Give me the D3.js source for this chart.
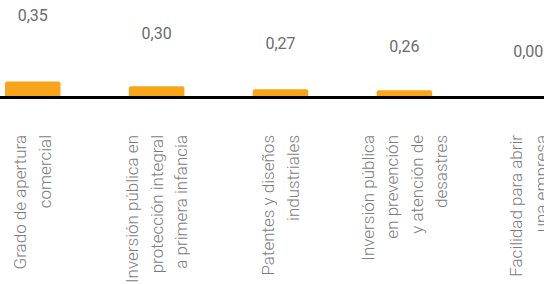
<!DOCTYPE html>
<html>
<head>
<meta charset="utf-8">
<script src="https://cdn.jsdelivr.net/npm/d3@7"></script>
<style>
  html, body { margin: 0; padding: 0; background: #fff; }
  svg { display: block; }
</style>
</head>
<body>
<div id="chart"></div>
<script>
// categories (line breaks where the label wraps)
var categories = [
	"Grado de apertura\ncomercial",
	"Inversión pública en\nprotección integral\na primera infancia",
	"Patentes y diseños\nindustriales",
	"Inversión pública\nen prevención\ny atención de\ndesastres",
	"Facilidad para abrir\nuna empresa"
];
var values = [0.35, 0.30, 0.27, 0.26, 0.00];
var valueLabels = ["0,35", "0,30", "0,27", "0,26", "0,00"];

var width = 544,
	height = 284,
	axisY = 96;

var svg = d3.select('#chart').append('svg')
	.attr('width', width)
	.attr('height', height);

var x = d3.scaleBand()
	.domain(categories)
	.range([5, 556])
	.paddingInner(0.552)
	.paddingOuter(0);

// bars only show the top of the range
var y = d3.scaleLinear()
	.domain([0.2, 0.35])
	.range([axisY, 81.5])
	.clamp(true);

// value labels sit on their own scale above the bars
var labelY = d3.scaleLinear()
	.domain([0.247, 0.35])
	.range([57, 21.3])
	.clamp(true);

var r = 2;
svg.selectAll('path.bar')
	.data(values)
	.enter()
	.append('path')
	.attr('class', 'bar')
	.attr('fill', '#f9a51b')
	.attr('d', function(d, i){
		let x0 = x(categories[i]), w = x.bandwidth();
		let top = y(d), h = axisY - top;
		if(h <= 0){ return null; }
		let rr = Math.min(r, h);
		return 'M' + x0 + ',' + axisY
			+ 'V' + (top + rr)
			+ 'Q' + x0 + ',' + top + ' ' + (x0 + rr) + ',' + top
			+ 'H' + (x0 + w - rr)
			+ 'Q' + (x0 + w) + ',' + top + ' ' + (x0 + w) + ',' + (top + rr)
			+ 'V' + axisY + 'Z';
	});

// baseline
svg.append('line')
	.attr('x1', 0).attr('x2', width)
	.attr('y1', axisY + 1.5).attr('y2', axisY + 1.5)
	.attr('stroke', '#000')
	.attr('stroke-width', 3);

svg.selectAll('text.val')
	.data(values)
	.enter()
	.append('text')
	.attr('class', 'val')
	.attr('x', function(d, i){ return x(categories[i]) + x.bandwidth() / 2; })
	.attr('y', function(d){ return labelY(d); })
	.attr('text-anchor', 'middle')
	.attr('font-family', 'Roboto, sans-serif')
	.attr('font-size', 16)
	.attr('fill', '#6b6b6b')
	.text(function(d, i){ return valueLabels[i]; });

// rotated category labels, block centred on the bar
var lineStep = 24.5, labelTop = 135;
var cat = svg.selectAll('g.cat')
	.data(categories)
	.enter()
	.append('g')
	.attr('class', 'cat');

cat.each(function(c){
	let lines = c.split('\n');
	let cx = x(c) + x.bandwidth() / 2;
	let g = d3.select(this);
	lines.forEach(function(ln, i){
		let bx = cx + (i - (lines.length - 1) / 2) * lineStep + 6;
		g.append('text')
			.attr('transform', 'translate(' + bx + ',' + labelTop + ') rotate(-90)')
			.attr('text-anchor', 'end')
			.attr('font-family', 'Roboto, sans-serif')
			.attr('font-weight', 300)
			.attr('font-size', 17)
			.attr('fill', '#7d7d7d')
			.text(ln);
	});
});
</script>
</body>
</html>
